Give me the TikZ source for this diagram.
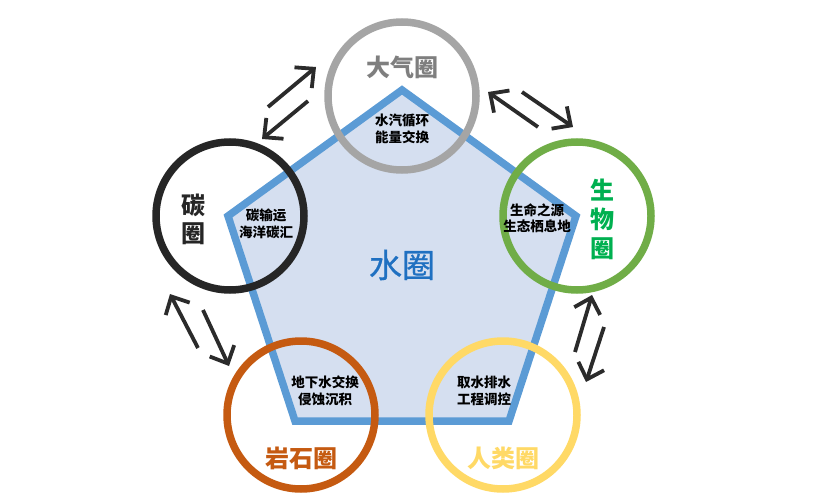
\documentclass[tikz,border=0pt]{standalone}
\usepackage{fontspec}
\setmainfont{Noto Sans CJK SC}
\newfontfamily\cjkmed[FakeBold=0.8]{Noto Sans CJK SC}
\usetikzlibrary{arrows.meta}
\definecolor{pentfill}{HTML}{D5DFF0}
\definecolor{pentline}{HTML}{5B9BD5}
\definecolor{ringgray}{HTML}{A5A5A5}
\definecolor{ringblack}{HTML}{262626}
\definecolor{ringgreen}{HTML}{70AD47}
\definecolor{ringorange}{HTML}{C55A11}
\definecolor{ringyellow}{HTML}{FFD966}
\definecolor{txtgray}{HTML}{7F7F7F}
\definecolor{txtgreen}{HTML}{00B050}
\definecolor{txtblue}{HTML}{1F70C1}
\definecolor{arrowcol}{HTML}{2B2B2B}
\tikzset{
  ring/.style={draw=#1, line width=7.5pt, circle, minimum size=148pt, inner sep=0pt},
  ringlabel/.style={font=\bfseries\fontsize{24}{28}\selectfont, text=#1, align=center, inner sep=0pt},
  innertext/.style={font=\bfseries\fontsize{13.5}{16.5}\selectfont, align=center, inner sep=0pt, text=black},
  dblarrow/.style={draw=arrowcol, line width=3.8pt, -{Straight Barb[length=14pt,width=27pt]}},
}
\begin{document}
\begin{tikzpicture}[x=1pt,y=-1pt]
\useasboundingbox (0,0) rectangle (819,500);
% pentagon
\coordinate (pt) at (402,90);
\coordinate (pr) at (576,216);
\coordinate (pbr) at (509,421);
\coordinate (pbl) at (295,421);
\coordinate (pl) at (228,216);
\draw[fill=pentfill, draw=pentline, line width=7.5pt, line join=miter] (pt) -- (pr) -- (pbr) -- (pbl) -- (pl) -- cycle;
\node[font=\cjkmed\fontsize{33}{36}\selectfont, text=txtblue, inner sep=0pt] (water) at (402,265) {水圈};
% rings
\node[ring=ringgray] (atm) at (402,96) {};
\node[ring=ringblack] (carb) at (230,216) {};
\node[ring=ringgreen] (bio) at (577,216) {};
\node[ring=ringorange] (rock) at (301,415) {};
\node[ring=ringyellow] (hum) at (503,415) {};
% ring labels
\node[ringlabel=txtgray] (atmL) at (402,67) {大气圈};
\node[ringlabel=ringblack, font=\bfseries\fontsize{24}{28}\selectfont] (carbL) at (193,219) {碳\\圈};
\node[ringlabel=txtgreen, font=\bfseries\fontsize{24}{29}\selectfont] (bioL) at (602,219) {生\\物\\圈};
\node[ringlabel=ringorange] (rockL) at (301,458) {岩石圈};
\node[ringlabel=ringyellow] (humL) at (503,458) {人类圈};
% inner texts
\node[innertext] (atmT) at (402,129) {水汽循环\\能量交换};
\node[innertext] (carbT) at (266,224) {碳输运\\海洋碳汇};
\node[innertext] (bioT) at (537,218) {生命之源\\生态栖息地};
\node[innertext] (rockT) at (325,391) {地下水交换\\侵蚀沉积};
\node[innertext] (humT) at (484,391) {取水排水\\工程调控};
% arrows
\coordinate (a1s) at (268,107); \coordinate (a1e) at (316,67);
\coordinate (a2s) at (308,101); \coordinate (a2e) at (262,139);
\coordinate (b1s) at (538,127); \coordinate (b1e) at (488,92);
\coordinate (b2s) at (522,92); \coordinate (b2e) at (573,127);
\coordinate (c1s) at (198,348); \coordinate (c1e) at (170,294);
\coordinate (c2s) at (203,310); \coordinate (c2e) at (229,366);
\coordinate (d1s) at (575,352); \coordinate (d1e) at (592,295);
\coordinate (d2s) at (604,327); \coordinate (d2e) at (586,382);
\draw[dblarrow] (a1s) -- (a1e);
\draw[dblarrow] (a2s) -- (a2e);
\draw[dblarrow] (b1s) -- (b1e);
\draw[dblarrow] (b2s) -- (b2e);
\draw[dblarrow] (c1s) -- (c1e);
\draw[dblarrow] (c2s) -- (c2e);
\draw[dblarrow] (d1s) -- (d1e);
\draw[dblarrow] (d2s) -- (d2e);
\end{tikzpicture}
\end{document}
